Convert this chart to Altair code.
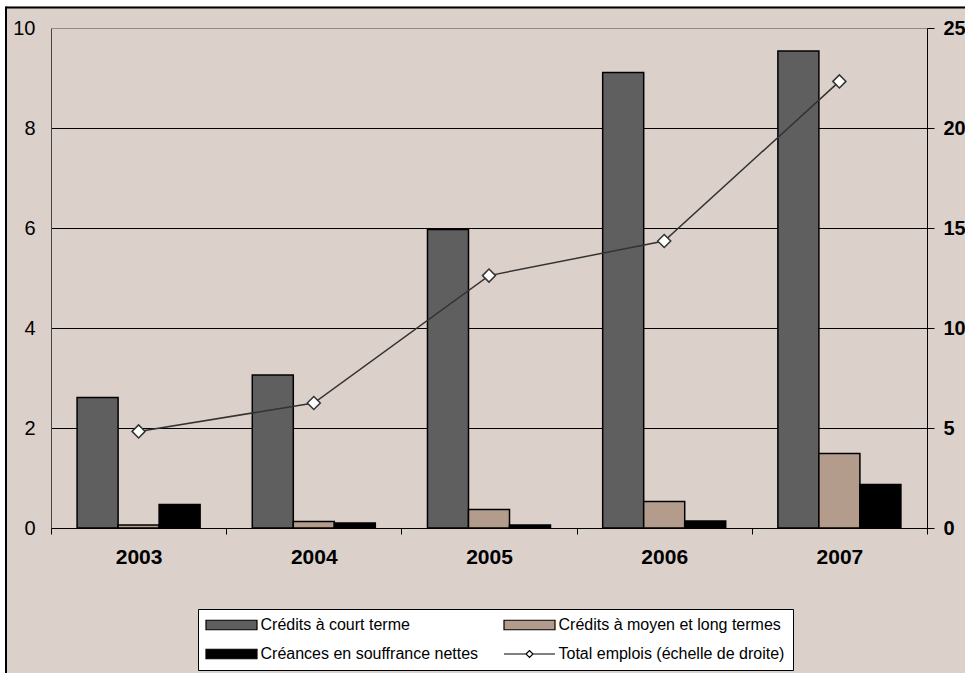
import altair as alt
import pandas as pd

# Années et séries (milliards)
years = ["2003", "2004", "2005", "2006", "2007"]
court_terme = [2.61, 3.06, 5.97, 9.11, 9.54]
moyen_long = [0.06, 0.13, 0.37, 0.53, 1.49]
creances = [0.47, 0.10, 0.06, 0.14, 0.87]
total_emplois = [4.83, 6.25, 12.62, 14.35, 22.33]

series_names = [
    "Crédits à court terme",
    "Crédits à moyen et long termes",
    "Créances en souffrance nettes",
    "Total emplois (échelle de droite)",
]
series_colors = ["#5f5f5f", "#b39c8c", "#000000", "#ffffff"]
left_ticks = [0, 2, 4, 6, 8, 10]
right_ticks = [0, 5, 10, 15, 20, 25]

FONT = "Liberation Sans"
BG = "#dcd0cb"
W, H = 876, 500

bar_rows = []
for name, vals in zip(series_names[:3], [court_terme, moyen_long, creances]):
    for y, v in zip(years, vals):
        bar_rows.append({"annee": y, "serie": name, "valeur": v})
bars_df = pd.DataFrame(bar_rows)
line_df = pd.DataFrame({"annee": years, "total": total_emplois})
one_row = pd.DataFrame({"k": [0]})

x_enc = alt.X(
    "annee:N",
    sort=years,
    scale=alt.Scale(paddingInner=0, paddingOuter=0),
    axis=alt.Axis(
        title=None, labelAngle=0, tickBand="extent", tickSize=6,
        tickColor="black", domainColor="black", labelColor="black",
        labelFontSize=21, labelFontWeight="bold", labelPadding=12,
        labelFont=FONT,
    ),
)

# Cadre extérieur
frame_top = alt.Chart(one_row).mark_rule(color="black", strokeWidth=2).encode(
    x=alt.value(-45), x2=alt.value(W + 38), y=alt.value(-20.5)
)
frame_left = alt.Chart(one_row).mark_rule(color="black", strokeWidth=2).encode(
    x=alt.value(-45), y=alt.value(-21.5), y2=alt.value(H + 145)
)
strip_top = alt.Chart(one_row).mark_rect(fill="white").encode(
    x=alt.value(-51), x2=alt.value(W + 38), y=alt.value(-28), y2=alt.value(-21.5)
)
strip_left = alt.Chart(one_row).mark_rect(fill="white").encode(
    x=alt.value(-51), x2=alt.value(-46), y=alt.value(-28), y2=alt.value(H + 145)
)

legend_shape = (
    "datum.index == 3 ? "
    "'M-5.1,0H-0.7M0.7,0H5.1M-0.7,0L0,-0.7L0.7,0L0,0.7Z' : "
    "'M-5.1,-0.95H5.1V0.95H-5.1Z'"
)

bars = alt.Chart(bars_df).mark_bar(stroke="black", strokeWidth=1.5).encode(
    x=x_enc,
    xOffset=alt.XOffset(
        "serie:N", sort=series_names[:3],
        scale=alt.Scale(paddingInner=0, paddingOuter=0.636),
    ),
    y=alt.Y(
        "valeur:Q",
        scale=alt.Scale(domain=[0, 10], nice=False),
        axis=alt.Axis(
            title=None, values=left_ticks, grid=True,
            gridColor={"condition": {"test": "datum.value == 10", "value": "#8c8c8c"}, "value": "black"},
            gridWidth=1, ticks=False, labelPadding=16, domainColor="#444444",
            labelFontSize=20, labelColor="black", labelFont=FONT,
        ),
    ),
    color=alt.Color(
        "serie:N",
        scale=alt.Scale(domain=series_names, range=series_colors),
        legend=alt.Legend(
            title=None, orient="none", legendX=147, legendY=581,
            columns=2, direction="horizontal",
            fillColor="white", strokeColor="black", padding=8,
            labelFont=FONT, labelFontSize=16, labelColor="black",
            labelLimit=400,
            symbolType={"expr": legend_shape},
            symbolSize=100, symbolOffset=17.5, labelOffset=21,
            symbolStrokeColor="black", symbolStrokeWidth=1.2,
            columnPadding=22, rowPadding=13,
        ),
    ),
)

y_right = alt.Y(
    "total:Q",
    scale=alt.Scale(domain=[0, 25], nice=False),
    axis=alt.Axis(
        title=None, orient="right", values=right_ticks, grid=False,
        tickSize=7, tickColor="black", domainColor="black",
        labelFontSize=20, labelFontWeight="bold", labelPadding=9,
        labelColor="black", labelFont=FONT,
    ),
)

line = alt.Chart(line_df).mark_line(color="#333333", strokeWidth=1.5).encode(
    x=alt.X("annee:N", sort=years), y=y_right
)
points = alt.Chart(line_df).mark_point(
    shape="diamond", filled=True, fill="white", stroke="#333333",
    strokeWidth=1.5, size=170, opacity=1,
).encode(x=alt.X("annee:N", sort=years), y=y_right)

total_layer = alt.layer(line, points)

chart = (
    alt.layer(strip_top, strip_left, frame_top, frame_left, bars, total_layer)
    .resolve_scale(y="independent")
    .properties(
        width=W, height=H,
        autosize=alt.AutoSizeParams(type="none"),
        padding={"left": 51, "top": 28, "right": 38, "bottom": 145},
        background=BG,
    )
    .configure_view(fill="white", stroke="#8c8c8c", strokeWidth=1)
    .configure(font=FONT)
)

chart.save("out.html", embed_options={"renderer": "svg", "actions": False})
